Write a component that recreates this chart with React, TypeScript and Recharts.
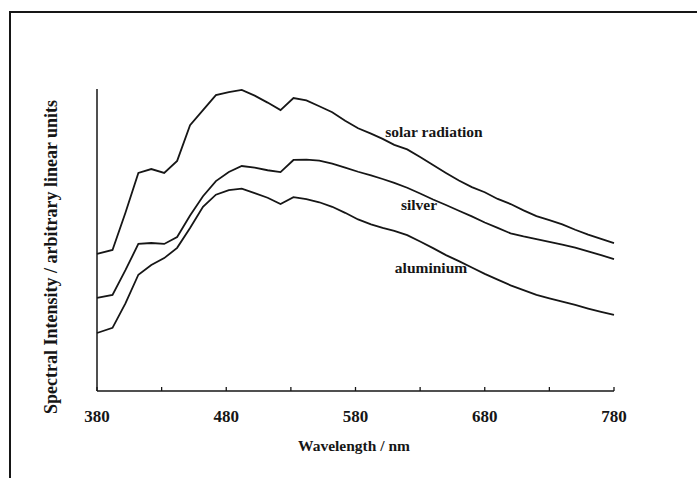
import { LineChart, Line, XAxis, YAxis } from "recharts";

// wavelength of each sample, nm
const wavelengths = [
  380, 392, 402, 412, 422, 432, 442, 452, 462, 472, 482, 492, 502, 512, 522,
  532, 542, 552, 562, 572, 582, 592, 601, 610, 620, 630, 640, 650, 660, 670,
  680, 690, 700, 710, 720, 730, 740, 750, 760, 770, 780,
];

// arbitrary linear units (0 = x axis, 100 = top of y axis)
const solar = [
  45.4, 46.7, 59, 72.2, 73.5, 72.2, 76.2, 88, 93, 98, 99, 99.7, 97.8, 95.5, 93,
  97, 96.2, 94.3, 92.3, 89.5, 87, 85.2, 83.5, 81.5, 80, 77.5, 74.8, 72.2, 69.7,
  67.5, 65.8, 63.6, 61.9, 59.8, 57.9, 56.6, 55.2, 53.4, 51.8, 50.4, 49,
];
const silver = [
  30.8, 31.8, 40, 48.7, 49, 48.7, 51, 58.1, 64.5, 69.5, 72.5, 74.5, 74, 73.1,
  72.5, 76.5, 76.6, 76.3, 75.3, 74, 72.6, 71.4, 70.2, 68.9, 67.3, 65.4, 63.4,
  61.6, 59.7, 57.8, 55.8, 54, 52.2, 51.2, 50.3, 49.4, 48.5, 47.5, 46.2, 45,
  43.7,
];
const aluminium = [
  19.2, 20.9, 29, 38.5, 41.7, 44, 47.4, 54, 61, 65, 66.5, 67, 65.5, 64, 61.9,
  64.2, 63.5, 62.5, 61, 59, 56.8, 55.2, 54, 53, 51.6, 49.5, 47.3, 45, 43, 40.9,
  38.8, 36.9, 35, 33.4, 31.8, 30.7, 29.6, 28.5, 27.3, 26.2, 25.2,
];

const xTicks = [380, 430, 480, 530, 580, 630, 680, 730, 780];
const labelledTicks = [380, 480, 580, 680, 780];

const data = wavelengths.map((w, i) => ({
  w,
  solar: solar[i],
  silver: silver[i],
  aluminium: aluminium[i],
}));

const FONT = "'Liberation Serif', 'Times New Roman', serif";
const INK = "#161616";

const BottomTick = (props: any) => {
  const { x, y, payload } = props;
  const v = payload.value;
  return (
    <g>
      <line x1={x} y1={y} x2={x} y2={y - 4} stroke={INK} strokeWidth={1.3} />
      {labelledTicks.includes(v) && (
        <text
          x={x}
          y={y + 31}
          textAnchor="middle"
          fontFamily={FONT}
          fontWeight="bold"
          fontSize={17}
          fill={INK}
        >
          {v}
        </text>
      )}
    </g>
  );
};

const textStyle: React.CSSProperties = {
  position: "absolute",
  fontFamily: FONT,
  fontWeight: "bold",
  fontSize: 15.5,
  color: INK,
  whiteSpace: "nowrap",
  lineHeight: "18px",
  transform: "translate(-50%, -50%)",
};

export default function App() {
  return (
    <div
      style={{
        position: "absolute",
        left: 0,
        top: 0,
        width: 697,
        height: 478,
        background: "#fff",
        overflow: "hidden",
      }}
    >
      {/* page frame */}
      <div
        style={{
          position: "absolute",
          left: 9,
          top: 11,
          width: 720,
          height: 500,
          borderTop: `2px solid ${INK}`,
          borderLeft: `2.5px solid ${INK}`,
        }}
      />
      <LineChart
        width={697}
        height={478}
        data={data}
        margin={{ top: 89, right: 83, bottom: 86, left: 96 }}
        style={{ position: "absolute", left: 0, top: 0 }}
      >
        <XAxis
          dataKey="w"
          type="number"
          domain={[380, 780]}
          ticks={xTicks}
          height={1}
          tickSize={0}
          tickMargin={0}
          tickLine={false}
          tick={<BottomTick />}
          axisLine={{ stroke: INK, strokeWidth: 1.5 }}
          interval={0}
        />
        <YAxis
          type="number"
          domain={[0, 100]}
          width={1}
          tick={false}
          tickLine={false}
          axisLine={{ stroke: INK, strokeWidth: 1.5 }}
        />
        <Line
          dataKey="solar"
          type="linear"
          stroke={INK}
          strokeWidth={1.8}
          dot={false}
          isAnimationActive={false}
        />
        <Line
          dataKey="silver"
          type="linear"
          stroke={INK}
          strokeWidth={1.8}
          dot={false}
          isAnimationActive={false}
        />
        <Line
          dataKey="aluminium"
          type="linear"
          stroke={INK}
          strokeWidth={1.8}
          dot={false}
          isAnimationActive={false}
        />
      </LineChart>

      <div style={{ ...textStyle, left: 434, top: 132 }}>solar radiation</div>
      <div style={{ ...textStyle, left: 419, top: 205 }}>silver</div>
      <div style={{ ...textStyle, left: 431, top: 268 }}>aluminium</div>
      <div style={{ ...textStyle, left: 354, top: 446 }}>Wavelength / nm</div>
      <div
        style={{
          ...textStyle,
          fontSize: 18,
          left: 51,
          top: 257,
          transform: "translate(-50%, -50%) rotate(-90deg)",
        }}
      >
        Spectral Intensity / arbitrary linear units
      </div>
    </div>
  );
}
